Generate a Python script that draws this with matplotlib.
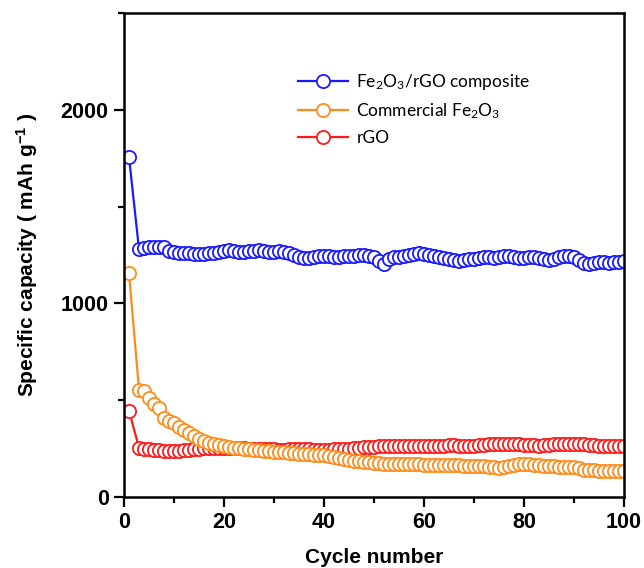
import matplotlib
matplotlib.use("Agg")
import matplotlib.pyplot as plt
from matplotlib.ticker import MultipleLocator

cycles = [1] + list(range(3, 101))

composite = [1756,
    1280, 1285, 1290, 1290, 1290, 1290,
    1270, 1265, 1260, 1260, 1260, 1255, 1255,
    1255, 1260, 1260, 1265, 1270,
    1275, 1270, 1265, 1265, 1270, 1270, 1275, 1270, 1265, 1265,
    1270, 1265, 1260, 1250, 1240, 1235, 1235, 1240, 1245, 1245,
    1245, 1240, 1240, 1245, 1245, 1245, 1250, 1250, 1245, 1240,
    1220, 1205, 1230, 1240, 1240, 1245, 1250, 1255, 1260, 1255,
    1250, 1245, 1240, 1235, 1230, 1225, 1220, 1225, 1230, 1230,
    1235, 1240, 1240, 1235, 1240, 1245, 1245, 1240, 1235, 1235,
    1240, 1240, 1235, 1230, 1225, 1230, 1240, 1245, 1245, 1240,
    1225, 1210, 1205, 1210, 1215, 1215, 1210, 1215, 1215, 1220]

commercial = [1155,
    555, 545, 510, 480, 460, 410, 395, 380,
    360, 345, 330, 315, 300, 290, 280, 275, 268, 262,
    258, 255, 252, 250, 248, 245, 242, 240, 238, 235,
    232, 230, 228, 225, 222, 220, 220, 218, 218, 215,
    210, 205, 200, 195, 190, 188, 185, 182, 180, 178,
    175, 172, 172, 170, 170, 170, 168, 168, 168, 167,
    167, 166, 166, 165, 165, 164, 163, 162, 160, 158,
    160, 158, 155, 153, 152, 155, 160, 165, 168, 170,
    168, 166, 164, 162, 160, 158, 157, 156, 155, 155,
    148, 140, 138, 137, 136, 136, 135, 135, 135, 135]

rgo = [446,
    255, 250, 248, 245, 243, 240, 238, 238,
    240, 242, 245, 248, 250, 252, 254, 255, 255, 255,
    255, 254, 253, 252, 250, 250, 248, 248, 247, 246,
    245, 245, 246, 246, 247, 247, 246, 245, 244, 244,
    245, 246, 247, 248, 250, 252, 254, 256, 258, 260,
    262, 264, 265, 265, 265, 265, 265, 265, 265, 265,
    265, 265, 266, 266, 267, 267, 265, 262, 262, 265,
    268, 270, 272, 274, 275, 275, 274, 273, 272, 270,
    268, 267, 266, 268, 270, 272, 274, 275, 276, 276,
    274, 272, 270, 268, 266, 265, 264, 263, 262, 262]

labels = ["Fe$_2$O$_3$/rGO composite", "Commercial Fe$_2$O$_3$", "rGO"]
colors = ["#1a1aff", "#ff8c1a", "#ff1a1a"]

plt.rcParams['font.family'] = ['Liberation Sans', 'DejaVu Sans']
plt.rcParams['font.weight'] = 'bold'
plt.rcParams['mathtext.default'] = 'regular'

fig = plt.figure(figsize=(6.44, 5.68), dpi=100)
ax = fig.add_axes([124/644, 1-497/568, 500/644, 484/568])

ms = 9.5
kw = dict(marker='o', markersize=ms, markerfacecolor='white', markeredgewidth=1.3, linewidth=1.6)
h3, = ax.plot(cycles, rgo, color=colors[2], markeredgecolor=colors[2], label=labels[2], **kw)
h2, = ax.plot(cycles, commercial, color=colors[1], markeredgecolor=colors[1], label=labels[1], **kw)
h1, = ax.plot(cycles, composite, color=colors[0], markeredgecolor=colors[0], label=labels[0], **kw)

ax.set_xlim(0, 100)
ax.set_ylim(0, 2500)
ax.xaxis.set_major_locator(MultipleLocator(20))
ax.xaxis.set_minor_locator(MultipleLocator(10))
ax.yaxis.set_major_locator(MultipleLocator(1000))
ax.yaxis.set_minor_locator(MultipleLocator(500))
ax.tick_params(which='major', direction='out', length=7, width=1.6, labelsize=15.5, pad=4)
ax.tick_params(which='minor', direction='out', length=4, width=1.6)
for sp in ax.spines.values():
    sp.set_linewidth(1.8)

ax.set_xlabel("Cycle number", fontsize=15, fontweight='bold')
ax.set_ylabel("Specific capacity ( mAh g$^{-1}$ )", fontsize=15, fontweight='bold')
ax.xaxis.set_label_coords(0.5, -0.105)
ax.yaxis.set_label_coords(-0.168, 0.5)

leg = ax.legend(handles=[h1, h2, h3], loc='upper left', bbox_to_anchor=(0.317, 0.911),
                frameon=False, numpoints=1, handlelength=2.9, handletextpad=0.45,
                labelspacing=0.55, prop={'family': ['Lato', 'DejaVu Sans'], 'size': 12.5, 'weight': 'normal'})

fig.savefig("out.png", dpi=100)
